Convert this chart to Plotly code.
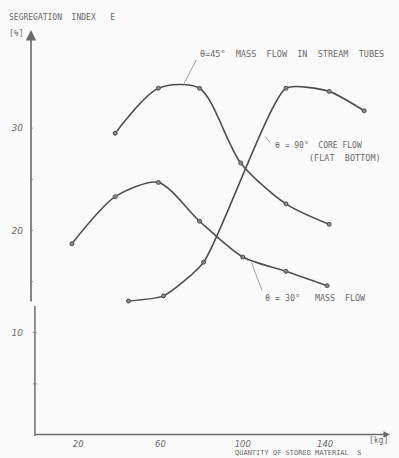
import plotly.graph_objects as go

# Segregation index E [%] against quantity of stored material S [kg]
theta45_x = [38, 59, 79, 99, 121, 142]
theta45_y = [29.5, 33.9, 33.9, 26.6, 22.6, 20.6]

theta30_x = [17, 38, 59, 79, 100, 121, 141]
theta30_y = [18.7, 23.3, 24.7, 20.9, 17.4, 16.0, 14.6]

theta90_x = [44.5, 61.5, 81, 121, 142, 159]
theta90_y = [13.1, 13.6, 16.9, 33.9, 33.6, 31.7]

x_ticks = [20, 60, 100, 140]
y_ticks = [10, 20, 30]
y_minor = [5, 15, 25]

INK = "#4f4f4f"
TEXT = "#6a6a6a"
MONO = "DejaVu Sans Mono"
NB = "\u00a0"

fig = go.Figure()

for xs, ys, smooth in [(theta45_x, theta45_y, 0.8),
                       (theta30_x, theta30_y, 0.75),
                       (theta90_x, theta90_y, 0.55)]:
    fig.add_trace(go.Scatter(
        x=xs, y=ys, mode="lines+markers",
        line=dict(color=INK, width=1.6, shape="spline", smoothing=smooth),
        marker=dict(size=4, color="#8a8a8a", line=dict(color=INK, width=1)),
        hoverinfo="skip", showlegend=False,
    ))

X_UP, X_LOW, Y_BREAK = -2.9, -1.0, 12.75

shapes = [
    # lower part of the ordinate, drawn slightly offset below the break
    dict(type="line", xref="x", yref="y", x0=X_LOW, x1=X_LOW, y0=-0.1, y1=Y_BREAK - 0.15,
         line=dict(color="#777777", width=1.6)),
]
# small tick marks on the ordinate
for v in y_ticks + y_minor:
    xa = X_UP if v > Y_BREAK else X_LOW
    shapes.append(dict(type="line", xref="x", yref="y", x0=xa - 0.9, x1=xa + 0.9, y0=v, y1=v,
                       line=dict(color="#888888", width=1)))

annotations = [
    # ordinate with arrow
    dict(x=X_UP, y=39.6, ax=X_UP, ay=Y_BREAK + 0.15, axref="x", ayref="y", xref="x", yref="y",
         text="", showarrow=True, arrowhead=2, arrowsize=1.3, arrowwidth=1.6, arrowcolor="#6a6a6a"),
    # abscissa with arrow
    dict(x=171.5, y=0.05, ax=X_LOW - 0.6, ay=0.05, axref="x", ayref="y", xref="x", yref="y",
         text="", showarrow=True, arrowhead=2, arrowsize=0.8, arrowwidth=1.6, arrowcolor="#6a6a6a"),
    # leader lines
    dict(x=71.5, y=34.4, ax=77.8, ay=36.8, axref="x", ayref="y", xref="x", yref="y",
         text="", showarrow=True, arrowhead=0, arrowwidth=0.8, arrowcolor="#8a8a8a"),
    dict(x=110.9, y=29.2, ax=113.6, ay=28.5, axref="x", ayref="y", xref="x", yref="y",
         text="", showarrow=True, arrowhead=0, arrowwidth=0.8, arrowcolor="#8a8a8a"),
    dict(x=104.2, y=16.9, ax=109.6, ay=14.0, axref="x", ayref="y", xref="x", yref="y",
         text="", showarrow=True, arrowhead=0, arrowwidth=0.8, arrowcolor="#8a8a8a"),
]


def label(x, y, txt, size=8, xanchor="left", yanchor="middle", ref="x"):
    xr, yr = ("x", "y") if ref == "x" else ("paper", "paper")
    annotations.append(dict(x=x, y=y, xref=xr, yref=yr, text=txt, showarrow=False,
                            xanchor=xanchor, yanchor=yanchor,
                            font=dict(family=MONO, size=size, color=TEXT)))


label(-0.066, 1.029, "SEGREGATION" + NB * 2 + "INDEX" + NB * 3 + "E", ref="paper")
label(-0.066, 0.990, "[%]", ref="paper")
label(78.2, 37.3, "θ=45°" + NB * 2 + (NB * 2).join(["MASS", "FLOW", "IN", "STREAM", "TUBES"]),
      size=8.5)
label(114.7, 28.3, "θ" + NB + "=" + NB + "90°" + NB * 2 + "CORE" + NB + "FLOW", size=8)
label(131.2, 27.1, "(FLAT" + NB * 2 + "BOTTOM)", size=8.5)
label(109.8, 13.4, "θ" + NB + "=" + NB + "30°" + NB * 3 + "MASS" + NB * 2 + "FLOW", size=8.3)
label(0.9586, -0.008, "[kg]", xanchor="center", ref="paper")
label(0.558, -0.0404, "QUANTITY" + NB + "OF" + NB + "STORED" + NB + "MATERIAL" + NB * 2 + "S",
      size=7, ref="paper")

fig.update_layout(
    width=399, height=458,
    margin=dict(l=31, r=6, t=29, b=21),
    paper_bgcolor="#fbfbfb", plot_bgcolor="#fbfbfb",
    shapes=shapes, annotations=annotations,
    xaxis=dict(range=[-2.9, 173.0], showgrid=False, zeroline=False, showline=False,
               tickvals=x_ticks, ticktext=[str(v) for v in x_ticks], ticks="",
               tickfont=dict(family="DejaVu Sans", size=8.5, color=TEXT, style="italic"),
               ticklabelstandoff=0),
    yaxis=dict(range=[-0.2, 39.7], showgrid=False, zeroline=False, showline=False,
               tickvals=y_ticks, ticktext=[str(v) for v in y_ticks], ticks="",
               tickfont=dict(family="DejaVu Sans", size=9, color=TEXT, style="italic"),
               ticklabelstandoff=7),
)

fig.write_html("out.html")
